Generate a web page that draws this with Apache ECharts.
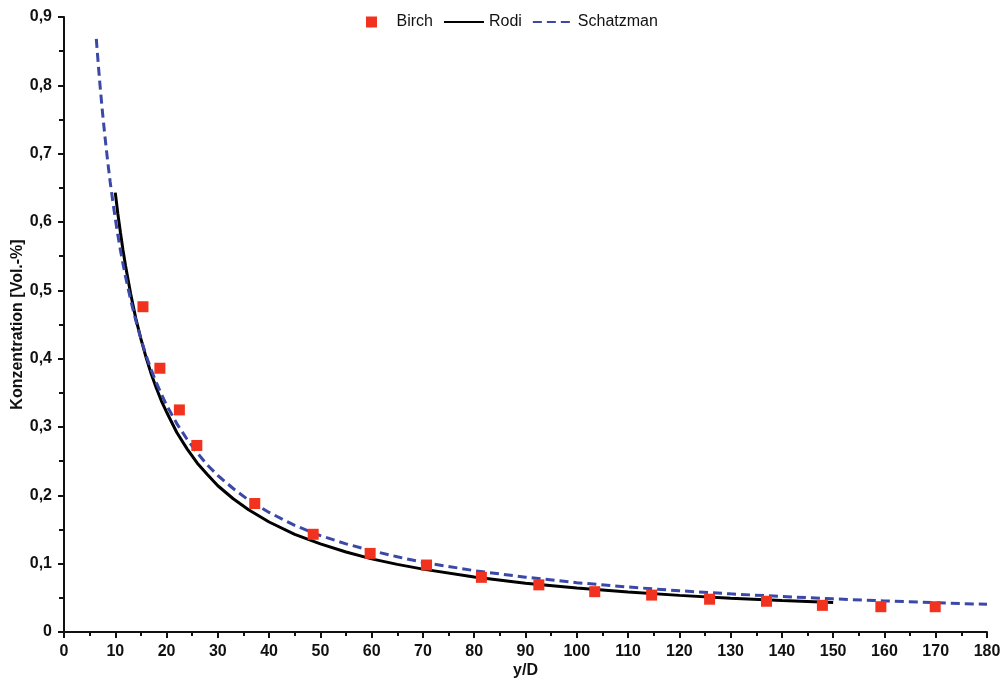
<!DOCTYPE html>
<html>
<head>
<meta charset="utf-8">
<script src="https://cdn.jsdelivr.net/npm/echarts@6/dist/echarts.min.js"></script>
<style>
html,body{margin:0;padding:0;background:#fff;}
#chart{width:1003px;height:683px;}
</style>
</head>
<body>
<div id="chart"></div>
<script>
// Birch measurements
const birchX = [15.4, 18.7, 22.5, 25.9, 37.2, 48.6, 59.7, 70.7, 81.4, 92.6, 103.5, 114.6, 125.9, 137.0, 147.9, 159.3, 169.9];
const birchY = [0.476, 0.386, 0.325, 0.273, 0.188, 0.143, 0.115, 0.098, 0.080, 0.069, 0.059, 0.054, 0.048, 0.045, 0.039, 0.037, 0.037];

// Rodi curve
const rodiX = [10, 10.5, 11, 11.5, 12, 13, 14, 15, 16, 17, 18, 19, 20, 22, 24, 26, 28, 30, 33, 36, 40, 45, 50, 55, 60, 65, 70, 80, 90, 100, 110, 120, 130, 140, 150];
const rodiY = [0.643, 0.612, 0.585, 0.559, 0.536, 0.495, 0.459, 0.429, 0.402, 0.378, 0.357, 0.338, 0.322, 0.292, 0.268, 0.247, 0.230, 0.214, 0.195, 0.179, 0.161, 0.143, 0.129, 0.117, 0.107, 0.099, 0.092, 0.0805, 0.0715, 0.0643, 0.0585, 0.0536, 0.0495, 0.046, 0.043];

// Schatzman curve
const schatzX = [6.3, 6.6, 7, 7.5, 8, 8.5, 9, 9.5, 10, 10.5, 11, 11.5, 12, 13, 14, 15, 16, 17, 18, 19, 20, 22, 24, 26, 28, 30, 33, 36, 40, 45, 50, 55, 60, 65, 70, 80, 90, 100, 110, 120, 130, 140, 150, 160, 170, 180];
const schatzY = [0.868, 0.839, 0.802, 0.761, 0.724, 0.690, 0.659, 0.631, 0.605, 0.581, 0.559, 0.539, 0.520, 0.486, 0.456, 0.429, 0.405, 0.384, 0.365, 0.348, 0.332, 0.305, 0.282, 0.262, 0.244, 0.229, 0.210, 0.193, 0.175, 0.156, 0.141, 0.129, 0.119, 0.110, 0.102, 0.0898, 0.0802, 0.0722, 0.0658, 0.0604, 0.0558, 0.0519, 0.0485, 0.0455, 0.0428, 0.0405];

const seriesNames = ['Birch', 'Rodi', 'Schatzman'];
const xAxisTitle = 'y/D';
const yAxisTitle = 'Konzentration [Vol.-%]';

const zip = (a, b) => a.map((v, i) => [v, b[i]]);
const FONT = '"Liberation Sans", Arial, sans-serif';
const BLUE = '#3a48a8';
const RED = '#f0321e';

const chart = echarts.init(document.getElementById('chart'), null, {renderer: 'canvas'});
chart.setOption({
  animation: false,
  backgroundColor: '#ffffff',
  grid: {left: 64, right: 16, top: 17, bottom: 51, containLabel: false, outerBoundsMode: 'none'},
  legend: {
    left: 361, top: 9,
    itemWidth: 40, itemHeight: 11, itemGap: 10,
    symbolKeepAspect: true,
    textStyle: {fontFamily: FONT, fontSize: 16, color: '#111'},
    data: [
      {name: seriesNames[0], icon: 'path://M0,0h10v10h-10z'},
      {name: seriesNames[1], itemStyle: {opacity: 0}},
      {name: seriesNames[2], itemStyle: {opacity: 0}}
    ]
  },
  xAxis: {
    type: 'value', min: 0, max: 180, interval: 10,
    name: xAxisTitle, nameLocation: 'middle', nameGap: 31, nameMoveOverlap: false,
    nameTextStyle: {fontFamily: FONT, fontSize: 16, fontWeight: 'bold', color: '#111'},
    axisLine: {show: true, onZero: false, lineStyle: {color: '#111', width: 2}},
    axisTick: {show: true, length: 6, lineStyle: {color: '#111', width: 2}},
    minorTick: {show: true, splitNumber: 2, length: 4, lineStyle: {color: '#111', width: 2}},
    splitLine: {show: false},
    axisLabel: {fontFamily: FONT, fontSize: 16, fontWeight: 'bold', color: '#111', margin: 12}
  },
  yAxis: {
    type: 'value', min: 0, max: 0.9, interval: 0.1,
    name: yAxisTitle, nameLocation: 'middle', nameGap: 38, nameRotate: 90, nameMoveOverlap: false,
    nameTextStyle: {fontFamily: FONT, fontSize: 16, fontWeight: 'bold', color: '#111'},
    axisLine: {show: true, onZero: false, lineStyle: {color: '#111', width: 2}},
    axisTick: {show: true, length: 6, lineStyle: {color: '#111', width: 2}},
    minorTick: {show: true, splitNumber: 2, length: 5, lineStyle: {color: '#111', width: 2}},
    splitLine: {show: false},
    axisLabel: {
      fontFamily: FONT, fontSize: 16, fontWeight: 'bold', color: '#111', margin: 12,
      formatter: v => v === 0 ? '0' : v.toFixed(1).replace('.', ',')
    }
  },
  series: [
    {
      name: seriesNames[0], type: 'scatter', symbol: 'rect', symbolSize: 11,
      itemStyle: {color: RED, opacity: 1},
      data: zip(birchX, birchY), z: 5
    },
    {
      name: seriesNames[1], type: 'line', symbol: 'none', smooth: false,
      lineStyle: {color: '#000000', width: 3},
      itemStyle: {color: '#000000'},
      data: zip(rodiX, rodiY), z: 3
    },
    {
      name: seriesNames[2], type: 'line', symbol: 'none', smooth: false,
      lineStyle: {color: BLUE, width: 3, type: [9, 5]},
      itemStyle: {color: BLUE},
      data: zip(schatzX, schatzY), z: 4
    }
  ]
});
</script>
</body>
</html>
